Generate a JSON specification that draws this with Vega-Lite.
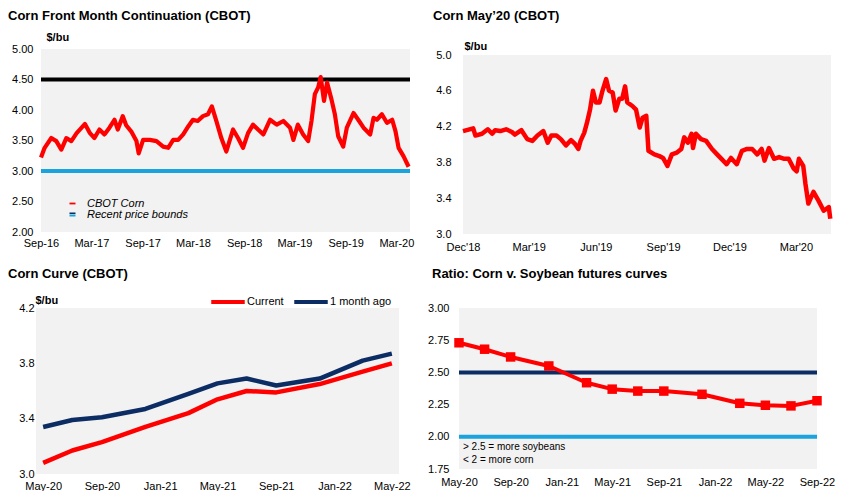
{
  "$schema": "https://vega.github.io/schema/vega-lite/v6.json",
  "background": "white",
  "padding": {"left": 8, "top": 10, "right": 0, "bottom": 0},
  "datasets": {
    "front": [
      {"date": "2016-09-01", "price": 3.22}, {"date": "2016-09-14", "price": 3.38}, {"date": "2016-10-08", "price": 3.54},
      {"date": "2016-10-26", "price": 3.49}, {"date": "2016-11-13", "price": 3.35}, {"date": "2016-12-01", "price": 3.54},
      {"date": "2016-12-19", "price": 3.49}, {"date": "2017-01-07", "price": 3.62}, {"date": "2017-01-25", "price": 3.71},
      {"date": "2017-02-06", "price": 3.77}, {"date": "2017-02-24", "price": 3.62}, {"date": "2017-03-12", "price": 3.54},
      {"date": "2017-03-30", "price": 3.68}, {"date": "2017-04-17", "price": 3.60}, {"date": "2017-05-05", "price": 3.71},
      {"date": "2017-05-23", "price": 3.84}, {"date": "2017-06-04", "price": 3.68}, {"date": "2017-06-22", "price": 3.90},
      {"date": "2017-07-04", "price": 3.75}, {"date": "2017-07-22", "price": 3.65}, {"date": "2017-08-10", "price": 3.49},
      {"date": "2017-08-18", "price": 3.29}, {"date": "2017-09-03", "price": 3.51}, {"date": "2017-09-27", "price": 3.51},
      {"date": "2017-10-21", "price": 3.49}, {"date": "2017-11-14", "price": 3.40}, {"date": "2017-12-02", "price": 3.38},
      {"date": "2017-12-20", "price": 3.51}, {"date": "2018-01-07", "price": 3.51}, {"date": "2018-01-25", "price": 3.60},
      {"date": "2018-02-12", "price": 3.73}, {"date": "2018-03-01", "price": 3.84}, {"date": "2018-03-18", "price": 3.82},
      {"date": "2018-04-06", "price": 3.90}, {"date": "2018-04-24", "price": 3.93}, {"date": "2018-05-08", "price": 4.06},
      {"date": "2018-05-24", "price": 3.82}, {"date": "2018-06-11", "price": 3.54}, {"date": "2018-06-29", "price": 3.32},
      {"date": "2018-07-23", "price": 3.68}, {"date": "2018-08-10", "price": 3.54}, {"date": "2018-08-28", "price": 3.38},
      {"date": "2018-09-15", "price": 3.62}, {"date": "2018-10-03", "price": 3.76}, {"date": "2018-10-21", "price": 3.68},
      {"date": "2018-11-09", "price": 3.60}, {"date": "2018-12-03", "price": 3.84}, {"date": "2018-12-27", "price": 3.76},
      {"date": "2019-01-20", "price": 3.82}, {"date": "2019-02-13", "price": 3.71}, {"date": "2019-02-25", "price": 3.51},
      {"date": "2019-03-13", "price": 3.76}, {"date": "2019-04-01", "price": 3.60}, {"date": "2019-04-19", "price": 3.49},
      {"date": "2019-05-01", "price": 3.82}, {"date": "2019-05-13", "price": 4.26}, {"date": "2019-05-25", "price": 4.37},
      {"date": "2019-06-03", "price": 4.54}, {"date": "2019-06-15", "price": 4.15}, {"date": "2019-06-26", "price": 4.45},
      {"date": "2019-07-12", "price": 4.17}, {"date": "2019-07-24", "price": 3.93}, {"date": "2019-08-05", "price": 3.57},
      {"date": "2019-08-23", "price": 3.40}, {"date": "2019-09-05", "price": 3.71}, {"date": "2019-09-29", "price": 3.95},
      {"date": "2019-10-16", "price": 3.84}, {"date": "2019-11-04", "price": 3.71}, {"date": "2019-11-28", "price": 3.60},
      {"date": "2019-12-10", "price": 3.87}, {"date": "2019-12-22", "price": 3.84}, {"date": "2020-01-09", "price": 3.93},
      {"date": "2020-01-27", "price": 3.79}, {"date": "2020-02-15", "price": 3.84}, {"date": "2020-02-27", "price": 3.65},
      {"date": "2020-03-09", "price": 3.38}, {"date": "2020-03-27", "price": 3.24}, {"date": "2020-04-14", "price": 3.07}
    ],
    "bounds": [
      {"bound": "Recent price bounds", "edge": "upper", "level": 4.5},
      {"bound": "Recent price bounds", "edge": "lower", "level": 3.0}
    ],
    "may20": [
      {"date": "2018-12-01", "price": 4.15}, {"date": "2018-12-15", "price": 4.18}, {"date": "2018-12-18", "price": 4.10},
      {"date": "2018-12-27", "price": 4.12}, {"date": "2019-01-04", "price": 4.17}, {"date": "2019-01-10", "price": 4.12},
      {"date": "2019-01-14", "price": 4.16}, {"date": "2019-01-21", "price": 4.15}, {"date": "2019-01-29", "price": 4.17},
      {"date": "2019-02-06", "price": 4.14}, {"date": "2019-02-10", "price": 4.11}, {"date": "2019-02-19", "price": 4.16},
      {"date": "2019-02-27", "price": 4.06}, {"date": "2019-03-06", "price": 4.04}, {"date": "2019-03-13", "price": 4.10},
      {"date": "2019-03-21", "price": 4.15}, {"date": "2019-03-27", "price": 4.02}, {"date": "2019-04-01", "price": 4.10},
      {"date": "2019-04-08", "price": 4.10}, {"date": "2019-04-14", "price": 4.06}, {"date": "2019-04-21", "price": 3.99},
      {"date": "2019-04-28", "price": 4.05}, {"date": "2019-05-03", "price": 4.01}, {"date": "2019-05-08", "price": 3.95},
      {"date": "2019-05-11", "price": 4.04}, {"date": "2019-05-16", "price": 4.13}, {"date": "2019-05-20", "price": 4.25},
      {"date": "2019-05-24", "price": 4.39}, {"date": "2019-05-28", "price": 4.60}, {"date": "2019-06-01", "price": 4.47},
      {"date": "2019-06-06", "price": 4.47}, {"date": "2019-06-10", "price": 4.60}, {"date": "2019-06-15", "price": 4.73},
      {"date": "2019-06-19", "price": 4.60}, {"date": "2019-06-24", "price": 4.58}, {"date": "2019-06-28", "price": 4.38},
      {"date": "2019-07-03", "price": 4.51}, {"date": "2019-07-07", "price": 4.51}, {"date": "2019-07-11", "price": 4.65},
      {"date": "2019-07-14", "price": 4.47}, {"date": "2019-07-21", "price": 4.43}, {"date": "2019-07-26", "price": 4.39},
      {"date": "2019-07-31", "price": 4.19}, {"date": "2019-08-04", "price": 4.30}, {"date": "2019-08-09", "price": 4.32},
      {"date": "2019-08-12", "price": 3.93}, {"date": "2019-08-20", "price": 3.89}, {"date": "2019-08-27", "price": 3.87},
      {"date": "2019-09-01", "price": 3.85}, {"date": "2019-09-07", "price": 3.76}, {"date": "2019-09-13", "price": 3.89},
      {"date": "2019-09-20", "price": 3.91}, {"date": "2019-09-26", "price": 3.95}, {"date": "2019-09-30", "price": 4.08},
      {"date": "2019-10-05", "price": 4.02}, {"date": "2019-10-10", "price": 4.12}, {"date": "2019-10-12", "price": 3.96},
      {"date": "2019-10-16", "price": 4.12}, {"date": "2019-10-23", "price": 4.06}, {"date": "2019-10-30", "price": 4.04},
      {"date": "2019-11-07", "price": 3.95}, {"date": "2019-11-14", "price": 3.89}, {"date": "2019-11-20", "price": 3.84},
      {"date": "2019-11-27", "price": 3.78}, {"date": "2019-12-03", "price": 3.85}, {"date": "2019-12-11", "price": 3.78},
      {"date": "2019-12-18", "price": 3.93}, {"date": "2019-12-25", "price": 3.95}, {"date": "2020-01-01", "price": 3.95},
      {"date": "2020-01-08", "price": 3.89}, {"date": "2020-01-14", "price": 3.95}, {"date": "2020-01-18", "price": 3.82},
      {"date": "2020-01-24", "price": 3.96}, {"date": "2020-01-31", "price": 3.84}, {"date": "2020-02-07", "price": 3.86},
      {"date": "2020-02-14", "price": 3.84}, {"date": "2020-02-20", "price": 3.84}, {"date": "2020-02-27", "price": 3.73},
      {"date": "2020-03-02", "price": 3.70}, {"date": "2020-03-05", "price": 3.84}, {"date": "2020-03-11", "price": 3.76},
      {"date": "2020-03-14", "price": 3.56}, {"date": "2020-03-18", "price": 3.34}, {"date": "2020-03-25", "price": 3.47},
      {"date": "2020-04-01", "price": 3.37}, {"date": "2020-04-08", "price": 3.26}, {"date": "2020-04-15", "price": 3.30},
      {"date": "2020-04-17", "price": 3.17}
    ],
    "curve": [
      {"contract": "2020-05-01", "curve": "Current", "price": 3.08}, {"contract": "2020-07-01", "curve": "Current", "price": 3.17},
      {"contract": "2020-09-01", "curve": "Current", "price": 3.23}, {"contract": "2020-12-01", "curve": "Current", "price": 3.34},
      {"contract": "2021-03-01", "curve": "Current", "price": 3.44}, {"contract": "2021-05-01", "curve": "Current", "price": 3.54},
      {"contract": "2021-07-01", "curve": "Current", "price": 3.60}, {"contract": "2021-09-01", "curve": "Current", "price": 3.59},
      {"contract": "2021-12-01", "curve": "Current", "price": 3.65}, {"contract": "2022-03-01", "curve": "Current", "price": 3.74},
      {"contract": "2022-05-01", "curve": "Current", "price": 3.80},
      {"contract": "2020-05-01", "curve": "1 month ago", "price": 3.34}, {"contract": "2020-07-01", "curve": "1 month ago", "price": 3.39},
      {"contract": "2020-09-01", "curve": "1 month ago", "price": 3.41}, {"contract": "2020-12-01", "curve": "1 month ago", "price": 3.47},
      {"contract": "2021-03-01", "curve": "1 month ago", "price": 3.58}, {"contract": "2021-05-01", "curve": "1 month ago", "price": 3.655},
      {"contract": "2021-07-01", "curve": "1 month ago", "price": 3.69}, {"contract": "2021-09-01", "curve": "1 month ago", "price": 3.64},
      {"contract": "2021-12-01", "curve": "1 month ago", "price": 3.69}, {"contract": "2022-03-01", "curve": "1 month ago", "price": 3.82},
      {"contract": "2022-05-01", "curve": "1 month ago", "price": 3.87}
    ],
    "ratio": [
      {"contract": "2020-05-01", "ratio": 2.73}, {"contract": "2020-07-01", "ratio": 2.68}, {"contract": "2020-09-01", "ratio": 2.62},
      {"contract": "2020-12-01", "ratio": 2.55}, {"contract": "2021-03-01", "ratio": 2.42}, {"contract": "2021-05-01", "ratio": 2.37},
      {"contract": "2021-07-01", "ratio": 2.355}, {"contract": "2021-09-01", "ratio": 2.355}, {"contract": "2021-12-01", "ratio": 2.33},
      {"contract": "2022-03-01", "ratio": 2.26}, {"contract": "2022-05-01", "ratio": 2.245}, {"contract": "2022-07-01", "ratio": 2.24},
      {"contract": "2022-09-01", "ratio": 2.28}
    ],
    "thresholds": [
      {"threshold": "more soybeans", "level": 2.5},
      {"threshold": "more corn", "level": 2.0}
    ]
  },
  "columns": 2,
  "spacing": {"row": 74, "column": 60},
  "bounds": "flush",
  "align": "none",
  "resolve": {"scale": {"color": "independent"}, "legend": {"color": "independent"}},
  "concat": [
    {
      "width": 367,
      "height": 183,
      "title": {"text": "Corn Front Month Continuation (CBOT)", "dx": -28, "offset": 8},
      "layer": [
        {
          "data": {"values": [{}]},
          "mark": {"type": "rect", "color": "#f2f2f2"},
          "encoding": {
            "x": {"datum": {"year": 2016, "month": 9, "date": 1, "utc": true}, "type": "temporal",
              "scale": {"type": "utc", "nice": false, "range": [5, 374],
                "domain": [{"year": 2016, "month": 9, "date": 1, "utc": true}, {"year": 2020, "month": 4, "date": 19, "utc": true}]},
              "axis": {"title": null, "labelExpr": "utcFormat(datum.value, '%b-%y')", "labelPadding": 5,
                "values": [
                  {"year": 2016, "month": 9, "date": 1, "utc": true}, {"year": 2017, "month": 3, "date": 1, "utc": true},
                  {"year": 2017, "month": 9, "date": 1, "utc": true}, {"year": 2018, "month": 3, "date": 1, "utc": true},
                  {"year": 2018, "month": 9, "date": 1, "utc": true}, {"year": 2019, "month": 3, "date": 1, "utc": true},
                  {"year": 2019, "month": 9, "date": 1, "utc": true}, {"year": 2020, "month": 3, "date": 1, "utc": true}]}},
            "x2": {"datum": {"year": 2020, "month": 4, "date": 19, "utc": true}},
            "y": {"datum": 2, "type": "quantitative",
              "scale": {"domain": [2, 5], "nice": false, "zero": false},
              "axis": {"values": [2, 2.5, 3, 3.5, 4, 4.5, 5], "format": ".2f", "title": "$/bu", "titleAngle": 0,
                "titleAlign": "left", "titleBaseline": "middle", "titleX": 10, "titleY": -12, "labelPadding": 3, "grid": true}},
            "y2": {"datum": 5}
          }
        },
        {
          "data": {"name": "bounds"},
          "mark": {"type": "rule", "strokeWidth": 4},
          "encoding": {
            "x": {"datum": {"year": 2016, "month": 9, "date": 1, "utc": true}, "type": "temporal",
              "scale": {"type": "utc", "nice": false, "range": [5, 374],
                "domain": [{"year": 2016, "month": 9, "date": 1, "utc": true}, {"year": 2020, "month": 4, "date": 19, "utc": true}]},
              "axis": {"title": null, "labelExpr": "utcFormat(datum.value, '%b-%y')", "labelPadding": 5,
                "values": [
                  {"year": 2016, "month": 9, "date": 1, "utc": true}, {"year": 2017, "month": 3, "date": 1, "utc": true},
                  {"year": 2017, "month": 9, "date": 1, "utc": true}, {"year": 2018, "month": 3, "date": 1, "utc": true},
                  {"year": 2018, "month": 9, "date": 1, "utc": true}, {"year": 2019, "month": 3, "date": 1, "utc": true},
                  {"year": 2019, "month": 9, "date": 1, "utc": true}, {"year": 2020, "month": 3, "date": 1, "utc": true}]}},
            "x2": {"datum": {"year": 2020, "month": 4, "date": 19, "utc": true}},
            "y": {"field": "level", "type": "quantitative",
              "scale": {"domain": [2, 5], "nice": false, "zero": false},
              "axis": {"values": [2, 2.5, 3, 3.5, 4, 4.5, 5], "format": ".2f", "title": "$/bu", "titleAngle": 0,
                "titleAlign": "left", "titleBaseline": "middle", "titleX": 10, "titleY": -12, "labelPadding": 3, "grid": true}},
            "color": {"field": "bound", "type": "nominal", "condition": {"test": "datum.edge === 'upper'", "value": "#000000"},
              "scale": {"domain": ["CBOT Corn", "Recent price bounds"], "range": ["#ff0000", "#1aa3dd"]},
              "legend": {
                "orient": "none", "legendX": 31, "legendY": 149, "title": null, "direction": "vertical", "padding": 0,
                "rowPadding": -1, "labelFontStyle": "italic", "labelFontSize": 11, "labelOffset": 9, "symbolSize": 36,
                "symbolType": "M-1,-0.3H1V0.3H-1Z",
                "encode": {"symbols": {"update": {
                  "shape": [{"test": "datum.label === 'Recent price bounds'", "value": "M-1,-0.7H1V-0.1H-1Z M-1,0.1H1V0.7H-1Z"}, {"value": "M-1,-0.3H1V0.3H-1Z"}],
                  "fill": [{"test": "datum.label === 'Recent price bounds'", "value": {"gradient": "linear", "x1": 0, "y1": 0, "x2": 0, "y2": 1,
                    "stops": [{"offset": 0, "color": "#0c2c64"}, {"offset": 0.5, "color": "#0c2c64"}, {"offset": 0.5, "color": "#1aa3dd"}, {"offset": 1, "color": "#1aa3dd"}]}},
                    {"value": "#ff0000"}],
                  "stroke": {"value": "transparent"},
                  "strokeWidth": {"value": 0},
                  "opacity": {"value": 1},
                  "fillOpacity": {"value": 1}
                }}}
              }}
          }
        },
        {
          "data": {"name": "front"},
          "mark": {"type": "line", "strokeWidth": 4.2, "strokeJoin": "round"},
          "encoding": {
            "x": {
              "field": "date", "type": "temporal",
              "scale": {"type": "utc", "nice": false, "range": [5, 374],
                "domain": [{"year": 2016, "month": 9, "date": 1, "utc": true}, {"year": 2020, "month": 4, "date": 19, "utc": true}]},
              "axis": {"title": null, "labelExpr": "utcFormat(datum.value, '%b-%y')", "labelPadding": 5,
                "values": [
                  {"year": 2016, "month": 9, "date": 1, "utc": true}, {"year": 2017, "month": 3, "date": 1, "utc": true},
                  {"year": 2017, "month": 9, "date": 1, "utc": true}, {"year": 2018, "month": 3, "date": 1, "utc": true},
                  {"year": 2018, "month": 9, "date": 1, "utc": true}, {"year": 2019, "month": 3, "date": 1, "utc": true},
                  {"year": 2019, "month": 9, "date": 1, "utc": true}, {"year": 2020, "month": 3, "date": 1, "utc": true}]}
            },
            "y": {
              "field": "price", "type": "quantitative",
              "scale": {"domain": [2, 5], "nice": false, "zero": false},
              "axis": {"values": [2, 2.5, 3, 3.5, 4, 4.5, 5], "format": ".2f", "title": "$/bu", "titleAngle": 0,
                "titleAlign": "left", "titleBaseline": "middle", "titleX": 10, "titleY": -12, "labelPadding": 3, "grid": true}
            },
            "color": {
              "datum": "CBOT Corn", "type": "nominal",
              "scale": {"domain": ["CBOT Corn", "Recent price bounds"], "range": ["#ff0000", "#1aa3dd"]},
              "legend": {
                "orient": "none", "legendX": 31, "legendY": 149, "title": null, "direction": "vertical", "padding": 0,
                "rowPadding": -1, "labelFontStyle": "italic", "labelFontSize": 11, "labelOffset": 9, "symbolSize": 36,
                "symbolType": "M-1,-0.3H1V0.3H-1Z",
                "encode": {"symbols": {"update": {
                  "shape": [{"test": "datum.label === 'Recent price bounds'", "value": "M-1,-0.7H1V-0.1H-1Z M-1,0.1H1V0.7H-1Z"}, {"value": "M-1,-0.3H1V0.3H-1Z"}],
                  "fill": [{"test": "datum.label === 'Recent price bounds'", "value": {"gradient": "linear", "x1": 0, "y1": 0, "x2": 0, "y2": 1,
                    "stops": [{"offset": 0, "color": "#0c2c64"}, {"offset": 0.5, "color": "#0c2c64"}, {"offset": 0.5, "color": "#1aa3dd"}, {"offset": 1, "color": "#1aa3dd"}]}},
                    {"value": "#ff0000"}],
                  "stroke": {"value": "transparent"},
                  "strokeWidth": {"value": 0},
                  "opacity": {"value": 1},
                  "fillOpacity": {"value": 1}
                }}}
              }
            }
          }
        }
      ]
    },
    {
      "width": 368,
      "height": 185,
      "title": {"text": "Corn May’20 (CBOT)", "dx": -30, "offset": 17},
      "layer": [
        {
          "data": {"values": [{}]},
          "mark": {"type": "rect", "color": "#f2f2f2"},
          "encoding": {
            "x": {"datum": {"year": 2018, "month": 12, "date": 1, "utc": true}, "type": "temporal",
              "scale": {"type": "utc", "nice": false,
                "domain": [{"year": 2018, "month": 12, "date": 1, "utc": true}, {"year": 2020, "month": 4, "date": 18, "utc": true}]},
              "axis": {"title": null, "labelExpr": "utcFormat(datum.value, \"%b'%y\")", "labelPadding": 7,
                "values": [
                  {"year": 2018, "month": 12, "date": 1, "utc": true}, {"year": 2019, "month": 3, "date": 1, "utc": true},
                  {"year": 2019, "month": 6, "date": 1, "utc": true}, {"year": 2019, "month": 9, "date": 1, "utc": true},
                  {"year": 2019, "month": 12, "date": 1, "utc": true}, {"year": 2020, "month": 3, "date": 1, "utc": true}]}},
            "x2": {"datum": {"year": 2020, "month": 4, "date": 18, "utc": true}},
            "y": {"datum": 3, "type": "quantitative",
              "scale": {"domain": [3, 5], "nice": false, "zero": false, "range": [185, 6]},
              "axis": {"values": [3, 3.4, 3.8, 4.2, 4.6, 5], "format": ".1f", "title": "$/bu", "titleAngle": 0,
                "titleAlign": "left", "titleBaseline": "middle", "titleX": 1, "titleY": -3, "labelPadding": 12, "grid": true}},
            "y2": {"datum": 5}
          }
        },
        {
          "data": {"name": "may20"},
          "mark": {"type": "line", "strokeWidth": 4.5, "strokeJoin": "round", "color": "#ff0000"},
          "encoding": {
            "x": {
              "field": "date", "type": "temporal",
              "scale": {"type": "utc", "nice": false,
                "domain": [{"year": 2018, "month": 12, "date": 1, "utc": true}, {"year": 2020, "month": 4, "date": 18, "utc": true}]},
              "axis": {"title": null, "labelExpr": "utcFormat(datum.value, \"%b'%y\")", "labelPadding": 7,
                "values": [
                  {"year": 2018, "month": 12, "date": 1, "utc": true}, {"year": 2019, "month": 3, "date": 1, "utc": true},
                  {"year": 2019, "month": 6, "date": 1, "utc": true}, {"year": 2019, "month": 9, "date": 1, "utc": true},
                  {"year": 2019, "month": 12, "date": 1, "utc": true}, {"year": 2020, "month": 3, "date": 1, "utc": true}]}
            },
            "y": {
              "field": "price", "type": "quantitative",
              "scale": {"domain": [3, 5], "nice": false, "zero": false, "range": [185, 6]},
              "axis": {"values": [3, 3.4, 3.8, 4.2, 4.6, 5], "format": ".1f", "title": "$/bu", "titleAngle": 0,
                "titleAlign": "left", "titleBaseline": "middle", "titleX": 1, "titleY": -3, "labelPadding": 12, "grid": true}
            }
          }
        }
      ]
    },
    {
      "width": 363,
      "height": 166,
      "title": {"text": "Corn Curve (CBOT)", "dx": -28, "offset": 2.5},
      "layer": [
        {
          "data": {"values": [{}]},
          "mark": {"type": "rect", "color": "#f2f2f2"},
          "encoding": {
            "x": {"datum": {"year": 2020, "month": 4, "date": 16, "utc": true}, "type": "temporal",
              "scale": {"type": "utc", "nice": false,
                "domain": [{"year": 2020, "month": 4, "date": 16, "utc": true}, {"year": 2022, "month": 5, "date": 16, "utc": true}]},
              "axis": {"title": null, "labelExpr": "utcFormat(datum.value, '%b-%y')", "labelPadding": 6,
                "values": [
                  {"year": 2020, "month": 5, "date": 1, "utc": true}, {"year": 2020, "month": 9, "date": 1, "utc": true},
                  {"year": 2021, "month": 1, "date": 1, "utc": true}, {"year": 2021, "month": 5, "date": 1, "utc": true},
                  {"year": 2021, "month": 9, "date": 1, "utc": true}, {"year": 2022, "month": 1, "date": 1, "utc": true},
                  {"year": 2022, "month": 5, "date": 1, "utc": true}]}},
            "x2": {"datum": {"year": 2022, "month": 5, "date": 16, "utc": true}},
            "y": {"datum": 3, "type": "quantitative",
              "scale": {"domain": [3, 4.2], "nice": false, "zero": false},
              "axis": {"values": [3, 3.4, 3.8, 4.2], "format": ".1f", "title": "$/bu", "titleAngle": 0,
                "titleAlign": "left", "titleBaseline": "middle", "titleX": -1, "titleY": -8, "labelPadding": 2, "grid": true}},
            "y2": {"datum": 4.2}
          }
        },
        {
          "data": {"name": "curve"},
          "mark": {"type": "line", "strokeWidth": 4.5, "strokeJoin": "round"},
          "encoding": {
            "x": {
              "field": "contract", "type": "temporal",
              "scale": {"type": "utc", "nice": false,
                "domain": [{"year": 2020, "month": 4, "date": 16, "utc": true}, {"year": 2022, "month": 5, "date": 16, "utc": true}]},
              "axis": {"title": null, "labelExpr": "utcFormat(datum.value, '%b-%y')", "labelPadding": 6,
                "values": [
                  {"year": 2020, "month": 5, "date": 1, "utc": true}, {"year": 2020, "month": 9, "date": 1, "utc": true},
                  {"year": 2021, "month": 1, "date": 1, "utc": true}, {"year": 2021, "month": 5, "date": 1, "utc": true},
                  {"year": 2021, "month": 9, "date": 1, "utc": true}, {"year": 2022, "month": 1, "date": 1, "utc": true},
                  {"year": 2022, "month": 5, "date": 1, "utc": true}]}
            },
            "y": {
              "field": "price", "type": "quantitative",
              "scale": {"domain": [3, 4.2], "nice": false, "zero": false},
              "axis": {"values": [3, 3.4, 3.8, 4.2], "format": ".1f", "title": "$/bu", "titleAngle": 0,
                "titleAlign": "left", "titleBaseline": "middle", "titleX": -1, "titleY": -8, "labelPadding": 2, "grid": true}
            },
            "color": {
              "field": "curve", "type": "nominal",
              "scale": {"domain": ["Current", "1 month ago"], "range": ["#ff0000", "#0c2c64"]},
              "legend": {"orient": "none", "legendX": 173, "legendY": -25, "direction": "horizontal", "title": null,
                "padding": 0, "symbolType": "stroke", "symbolSize": 1122, "symbolStrokeWidth": 4, "labelOffset": 0,
                "columnPadding": 2, "labelFontSize": 11}
            }
          }
        }
      ]
    },
    {
      "width": 358,
      "height": 161,
      "title": {"text": "Ratio: Corn v. Soybean futures curves", "dx": -31, "offset": 21},
      "layer": [
        {
          "data": {"values": [{}]},
          "mark": {"type": "rect", "color": "#f2f2f2"},
          "encoding": {
            "x": {"datum": {"year": 2020, "month": 5, "date": 1, "utc": true}, "type": "temporal",
              "scale": {"type": "utc", "nice": false, "range": [-4, 354],
                "domain": [{"year": 2020, "month": 5, "date": 1, "utc": true}, {"year": 2022, "month": 9, "date": 1, "utc": true}]},
              "axis": {"title": null, "labelExpr": "utcFormat(datum.value, '%b-%y')", "labelPadding": 7,
                "values": [
                  {"year": 2020, "month": 5, "date": 1, "utc": true}, {"year": 2020, "month": 9, "date": 1, "utc": true},
                  {"year": 2021, "month": 1, "date": 1, "utc": true}, {"year": 2021, "month": 5, "date": 1, "utc": true},
                  {"year": 2021, "month": 9, "date": 1, "utc": true}, {"year": 2022, "month": 1, "date": 1, "utc": true},
                  {"year": 2022, "month": 5, "date": 1, "utc": true}, {"year": 2022, "month": 9, "date": 1, "utc": true}]}},
            "x2": {"datum": {"year": 2022, "month": 9, "date": 1, "utc": true}},
            "y": {"datum": 1.75, "type": "quantitative",
              "scale": {"domain": [1.75, 3], "nice": false, "zero": false},
              "axis": {"values": [1.75, 2, 2.25, 2.5, 2.75, 3], "format": ".2f", "title": null, "labelPadding": 14, "grid": true}},
            "y2": {"datum": 3}
          }
        },
        {
          "data": {"name": "thresholds"},
          "mark": {"type": "rule", "strokeWidth": 4},
          "encoding": {
            "x": {"datum": {"year": 2020, "month": 5, "date": 1, "utc": true}, "type": "temporal",
              "scale": {"type": "utc", "nice": false, "range": [-4, 354],
                "domain": [{"year": 2020, "month": 5, "date": 1, "utc": true}, {"year": 2022, "month": 9, "date": 1, "utc": true}]},
              "axis": {"title": null, "labelExpr": "utcFormat(datum.value, '%b-%y')", "labelPadding": 7,
                "values": [
                  {"year": 2020, "month": 5, "date": 1, "utc": true}, {"year": 2020, "month": 9, "date": 1, "utc": true},
                  {"year": 2021, "month": 1, "date": 1, "utc": true}, {"year": 2021, "month": 5, "date": 1, "utc": true},
                  {"year": 2021, "month": 9, "date": 1, "utc": true}, {"year": 2022, "month": 1, "date": 1, "utc": true},
                  {"year": 2022, "month": 5, "date": 1, "utc": true}, {"year": 2022, "month": 9, "date": 1, "utc": true}]}},
            "x2": {"datum": {"year": 2022, "month": 9, "date": 1, "utc": true}},
            "y": {"field": "level", "type": "quantitative",
              "scale": {"domain": [1.75, 3], "nice": false, "zero": false},
              "axis": {"values": [1.75, 2, 2.25, 2.5, 2.75, 3], "format": ".2f", "title": null, "labelPadding": 14, "grid": true}},
            "color": {"field": "threshold", "type": "nominal", "legend": null,
              "scale": {"domain": ["more soybeans", "more corn"], "range": ["#0c2c64", "#1aa3dd"]}}
          }
        },
        {
          "data": {"name": "ratio"},
          "mark": {"type": "line", "strokeWidth": 4, "strokeJoin": "round", "color": "#ff0000",
            "point": {"shape": "square", "size": 90, "filled": true, "color": "#ff0000", "opacity": 1}},
          "encoding": {
            "x": {
              "field": "contract", "type": "temporal",
              "scale": {"type": "utc", "nice": false, "range": [-4, 354],
                "domain": [{"year": 2020, "month": 5, "date": 1, "utc": true}, {"year": 2022, "month": 9, "date": 1, "utc": true}]},
              "axis": {"title": null, "labelExpr": "utcFormat(datum.value, '%b-%y')", "labelPadding": 7,
                "values": [
                  {"year": 2020, "month": 5, "date": 1, "utc": true}, {"year": 2020, "month": 9, "date": 1, "utc": true},
                  {"year": 2021, "month": 1, "date": 1, "utc": true}, {"year": 2021, "month": 5, "date": 1, "utc": true},
                  {"year": 2021, "month": 9, "date": 1, "utc": true}, {"year": 2022, "month": 1, "date": 1, "utc": true},
                  {"year": 2022, "month": 5, "date": 1, "utc": true}, {"year": 2022, "month": 9, "date": 1, "utc": true}]}
            },
            "y": {
              "field": "ratio", "type": "quantitative",
              "scale": {"domain": [1.75, 3], "nice": false, "zero": false},
              "axis": {"values": [1.75, 2, 2.25, 2.5, 2.75, 3], "format": ".2f", "title": null, "labelPadding": 14, "grid": true}
            }
          }
        },
        {
          "data": {"values": [{}]},
          "mark": {"type": "text", "align": "left", "baseline": "middle", "fontSize": 10, "lineHeight": 12.7, "dx": 4, "color": "#000000"},
          "encoding": {
            "x": {"datum": {"year": 2020, "month": 5, "date": 1, "utc": true}, "type": "temporal",
              "scale": {"type": "utc", "nice": false, "range": [-4, 354],
                "domain": [{"year": 2020, "month": 5, "date": 1, "utc": true}, {"year": 2022, "month": 9, "date": 1, "utc": true}]},
              "axis": {"title": null, "labelExpr": "utcFormat(datum.value, '%b-%y')", "labelPadding": 7,
                "values": [
                  {"year": 2020, "month": 5, "date": 1, "utc": true}, {"year": 2020, "month": 9, "date": 1, "utc": true},
                  {"year": 2021, "month": 1, "date": 1, "utc": true}, {"year": 2021, "month": 5, "date": 1, "utc": true},
                  {"year": 2021, "month": 9, "date": 1, "utc": true}, {"year": 2022, "month": 1, "date": 1, "utc": true},
                  {"year": 2022, "month": 5, "date": 1, "utc": true}, {"year": 2022, "month": 9, "date": 1, "utc": true}]}},
            "y": {"datum": 1.921, "type": "quantitative",
              "scale": {"domain": [1.75, 3], "nice": false, "zero": false},
              "axis": {"values": [1.75, 2, 2.25, 2.5, 2.75, 3], "format": ".2f", "title": null, "labelPadding": 14, "grid": true}},
            "text": {"value": ["> 2.5 = more soybeans", "< 2 = more corn"]}
          }
        }
      ]
    }
  ],
  "config": {
    "font": "Liberation Sans",
    "view": {"stroke": null, "fill": null},
    "axis": {"labelFont": "Liberation Sans", "labelFontSize": 11, "labelColor": "#000000", "domain": false, "ticks": false,
      "gridColor": "#ffffff", "gridWidth": 1, "gridOpacity": 1, "labelOverlap": false, "labelFlush": false, "labelBound": false,
      "titleFont": "Liberation Sans", "titleFontSize": 11, "titleFontWeight": "bold", "titleColor": "#000000"},
    "axisX": {"grid": false},
    "legend": {"labelFont": "Liberation Sans", "labelColor": "#000000", "labelFontSize": 11},
    "title": {"font": "Liberation Sans", "fontSize": 13, "fontWeight": "bold", "color": "#000000", "anchor": "start", "frame": "group"}
  }
}
